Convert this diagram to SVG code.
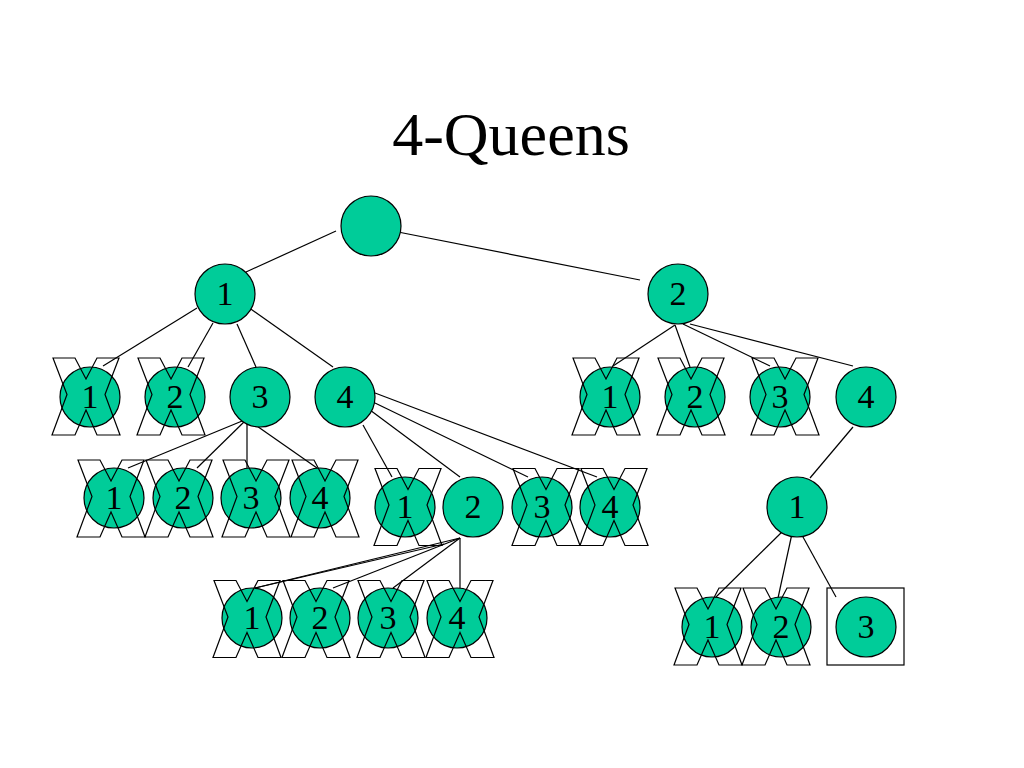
<svg xmlns="http://www.w3.org/2000/svg" width="1024" height="768" viewBox="0 0 1024 768">
<style>
.n{fill:#00CC99;stroke:#000;stroke-width:1.2}
.l{font-family:"Liberation Serif","Times New Roman",serif;font-size:34px;fill:#000;text-anchor:middle}
.c line{stroke:#000;stroke-width:1.2}
.t{font-family:"Liberation Serif","Times New Roman",serif;font-size:62px;fill:#000;text-anchor:middle}
</style>
<defs>
<path id="cross" d="M-33,-38.5 H-11 L0,-17.5 L11,-38.5 H33 L19,-2 L34,38.5 H11 L0,13.5 L-11,38.5 H-34 L-19,-2 Z" fill="none" stroke="#000" stroke-width="1.2" stroke-linejoin="miter"/>
</defs>
<rect width="1024" height="768" fill="#fff"/>
<text class="t" x="511" y="155">4-Queens</text>
<g id="connectors" class="c">
<line x1="336" y1="231" x2="246" y2="272"/>
<line x1="393" y1="231" x2="640" y2="280"/>
<line x1="197" y1="308" x2="103" y2="366"/>
<line x1="213" y1="323" x2="188" y2="367"/>
<line x1="237" y1="324" x2="256" y2="367"/>
<line x1="248" y1="307" x2="333" y2="367"/>
<line x1="675" y1="325" x2="613" y2="366"/>
<line x1="675" y1="325" x2="690" y2="367"/>
<line x1="683" y1="324" x2="770" y2="366"/>
<line x1="690" y1="324" x2="853" y2="366"/>
<line x1="247" y1="419" x2="128" y2="468"/>
<line x1="247" y1="419" x2="197" y2="468"/>
<line x1="247" y1="419" x2="247" y2="468"/>
<line x1="247" y1="419" x2="317" y2="468"/>
<line x1="363" y1="425" x2="392" y2="477"/>
<line x1="370" y1="410" x2="460" y2="477"/>
<line x1="375" y1="403" x2="528" y2="477"/>
<line x1="375" y1="393" x2="597" y2="477"/>
<line x1="460" y1="538" x2="255" y2="588"/>
<line x1="444" y1="544" x2="255" y2="588"/>
<line x1="460" y1="538" x2="333" y2="588"/>
<line x1="460" y1="538" x2="393" y2="588"/>
<line x1="460" y1="538" x2="460" y2="588"/>
<line x1="853" y1="427" x2="810" y2="478"/>
<line x1="785" y1="529" x2="715" y2="598"/>
<line x1="793" y1="529" x2="778" y2="598"/>
<line x1="803" y1="537" x2="836" y2="597"/>
</g>
<g id="root"><circle class="n" cx="371" cy="226" r="30"/></g>
<g id="q1"><circle class="n" cx="225" cy="294" r="30"/><text class="l" x="225" y="305">1</text></g>
<g id="q2"><circle class="n" cx="678" cy="294" r="30"/><text class="l" x="678" y="305">2</text></g>
<g id="q1-1"><circle class="n" cx="90" cy="397" r="30"/><use href="#cross" x="86" y="396.5"/><text class="l" x="90" y="408">1</text></g>
<g id="q1-2"><circle class="n" cx="175" cy="397" r="30"/><use href="#cross" x="171" y="396.5"/><text class="l" x="175" y="408">2</text></g>
<g id="q1-3"><circle class="n" cx="260" cy="397" r="30"/><text class="l" x="260" y="408">3</text></g>
<g id="q1-4"><circle class="n" cx="345" cy="397" r="30"/><text class="l" x="345" y="408">4</text></g>
<g id="q2-1"><circle class="n" cx="610" cy="397" r="30"/><use href="#cross" x="606" y="396.5"/><text class="l" x="610" y="408">1</text></g>
<g id="q2-2"><circle class="n" cx="695" cy="397" r="30"/><use href="#cross" x="691" y="396.5"/><text class="l" x="695" y="408">2</text></g>
<g id="q2-3"><circle class="n" cx="780" cy="397" r="30"/><use href="#cross" x="785" y="396.5"/><text class="l" x="780" y="408">3</text></g>
<g id="q2-4"><circle class="n" cx="866" cy="397" r="30"/><text class="l" x="866" y="408">4</text></g>
<g id="q1-3-1"><circle class="n" cx="114" cy="498" r="30"/><use href="#cross" x="111" y="498.5"/><text class="l" x="114" y="509">1</text></g>
<g id="q1-3-2"><circle class="n" cx="183" cy="498" r="30"/><use href="#cross" x="179" y="498.5"/><text class="l" x="183" y="509">2</text></g>
<g id="q1-3-3"><circle class="n" cx="251" cy="498" r="30"/><use href="#cross" x="256" y="498.5"/><text class="l" x="251" y="509">3</text></g>
<g id="q1-3-4"><circle class="n" cx="320" cy="498" r="30"/><use href="#cross" x="325" y="498.5"/><text class="l" x="320" y="509">4</text></g>
<g id="q1-4-1"><circle class="n" cx="405" cy="507" r="30"/><use href="#cross" x="408" y="507"/><text class="l" x="405" y="518">1</text></g>
<g id="q1-4-2"><circle class="n" cx="473" cy="507" r="30"/><text class="l" x="473" y="518">2</text></g>
<g id="q1-4-3"><circle class="n" cx="542" cy="507" r="30"/><use href="#cross" x="546" y="507"/><text class="l" x="542" y="518">3</text></g>
<g id="q1-4-4"><circle class="n" cx="610" cy="507" r="30"/><use href="#cross" x="614" y="507"/><text class="l" x="610" y="518">4</text></g>
<g id="q2-4-1"><circle class="n" cx="797" cy="507" r="30"/><text class="l" x="797" y="518">1</text></g>
<g id="q1-4-2-1"><circle class="n" cx="252" cy="618" r="30"/><use href="#cross" x="247" y="619"/><text class="l" x="252" y="629">1</text></g>
<g id="q1-4-2-2"><circle class="n" cx="320" cy="618" r="30"/><use href="#cross" x="316" y="619"/><text class="l" x="320" y="629">2</text></g>
<g id="q1-4-2-3"><circle class="n" cx="388" cy="618" r="30"/><use href="#cross" x="391" y="619"/><text class="l" x="388" y="629">3</text></g>
<g id="q1-4-2-4"><circle class="n" cx="457" cy="618" r="30"/><use href="#cross" x="460" y="619"/><text class="l" x="457" y="629">4</text></g>
<g id="q2-4-1-1"><circle class="n" cx="712" cy="627" r="30"/><use href="#cross" x="708" y="626.5"/><text class="l" x="712" y="638">1</text></g>
<g id="q2-4-1-2"><circle class="n" cx="781" cy="627" r="30"/><use href="#cross" x="776" y="626.5"/><text class="l" x="781" y="638">2</text></g>
<g id="q2-4-1-3"><rect x="827" y="588" width="77" height="77" fill="none" stroke="#000" stroke-width="1.2"/><circle class="n" cx="866" cy="627" r="30"/><text class="l" x="866" y="638">3</text></g>
</svg>
